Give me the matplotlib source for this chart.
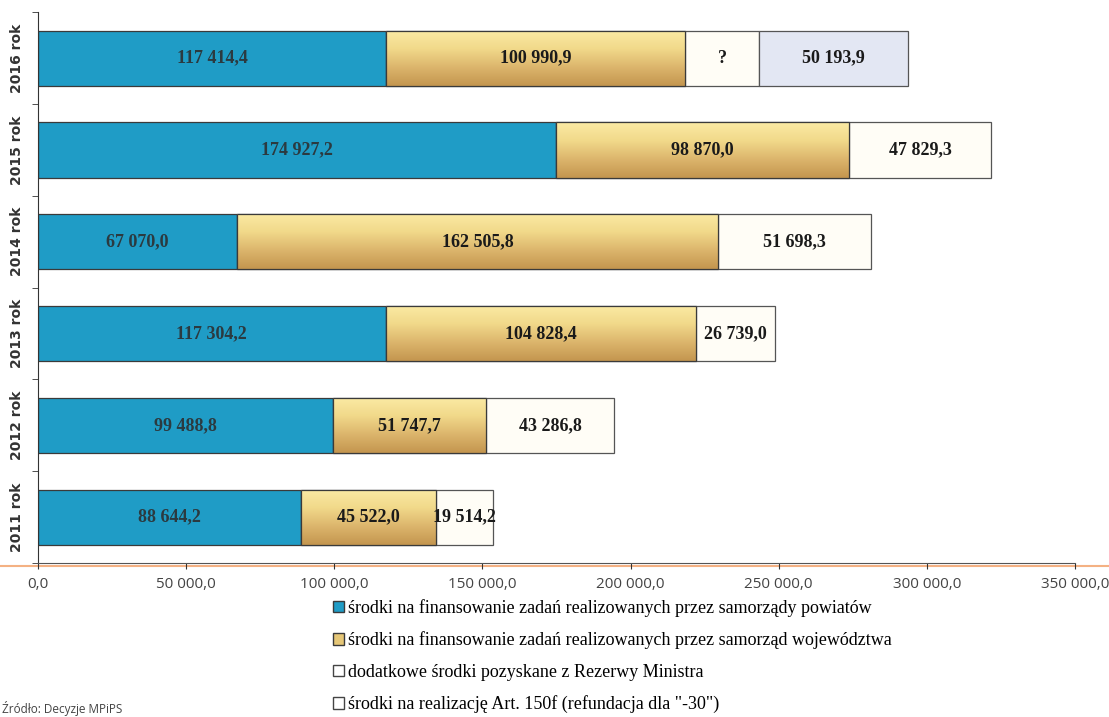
import numpy as np
import matplotlib.pyplot as plt
from matplotlib.patches import Patch
from matplotlib.colors import LinearSegmentedColormap

# data
years = ["2011 rok", "2012 rok", "2013 rok", "2014 rok", "2015 rok", "2016 rok"]
powiaty = [88644.2, 99488.8, 117304.2, 67070.0, 174927.2, 117414.4]
wojewodztwo = [45522.0, 51747.7, 104828.4, 162505.8, 98870.0, 100990.9]
rezerwa = [19514.2, 43286.8, 26739.0, 51698.3, 47829.3, 25000.0]   # 2016 unknown ("?")
rezerwa_txt = ["19 514,2", "43 286,8", "26 739,0", "51 698,3", "47 829,3", "?"]
art150f = [0, 0, 0, 0, 0, 50193.9]
xticks = [0, 50000, 100000, 150000, 200000, 250000, 300000, 350000]

labels = ["środki na finansowanie zadań realizowanych przez samorządy powiatów",
          "środki na finansowanie zadań realizowanych przez samorząd województwa",
          "dodatkowe środki pozyskane z Rezerwy Ministra",
          "środki na realizację Art. 150f (refundacja dla \"-30\")"]

def fmt(v):
    s = "{:,.1f}".format(v)
    return s.replace(",", " ").replace(".", ",")

c_blue = "#1f9cc6"
c_edge = "#3a3a3a"
c_lav = "#e3e7f3"
gold = LinearSegmentedColormap.from_list("gold", ["#fbeaa4", "#f1d98a", "#dcb56c", "#c4964f"])

fig = plt.figure(figsize=(11.09, 7.17), dpi=100)
ax = fig.add_axes([0.0343, 0.2148, 0.9350, 0.768])

y = np.arange(len(years))
h = 0.6
lw = 0.9
left1 = np.array(powiaty)
left2 = left1 + np.array(wojewodztwo)
left3 = left2 + np.array(rezerwa)

ax.barh(y, powiaty, height=h, color=c_blue, edgecolor=c_edge, linewidth=lw, zorder=2)
b2 = ax.barh(y, wojewodztwo, left=left1, height=h, color="#ecd07f", edgecolor=c_edge, linewidth=lw, zorder=2)
ax.barh(y, rezerwa, left=left2, height=h, color="#fffdf6", edgecolor="#555555", linewidth=lw, zorder=2)
ax.barh(y[5:], art150f[5:], left=left3[5:], height=h, color=c_lav, edgecolor="#555555", linewidth=lw, zorder=2)

# vertical gradient on the yellow segments (light on top, darker at the bottom)
grad = np.linspace(0, 1, 100).reshape(-1, 1)
for r in b2:
    x0, y0 = r.get_x(), r.get_y()
    im = ax.imshow(grad, cmap=gold, aspect="auto", zorder=2.5, origin="upper",
                   extent=[x0, x0 + r.get_width(), y0, y0 + r.get_height()])
    im.set_clip_path(r)
    ax.add_patch(plt.Rectangle((x0, y0), r.get_width(), r.get_height(),
                               fill=False, edgecolor=c_edge, linewidth=lw, zorder=3))

tf = dict(ha="center", va="center", family="Liberation Serif", fontweight="bold",
          fontsize=13, zorder=5)
for i in y:
    ax.text(powiaty[i] / 2, i, fmt(powiaty[i]), color="#2b3a40", **tf)
    ax.text(left1[i] + wojewodztwo[i] / 2, i, fmt(wojewodztwo[i]), color="#1a1a1a", **tf)
    ax.text(left2[i] + rezerwa[i] / 2, i, rezerwa_txt[i], color="#1a1a1a", **tf)
    if art150f[i] > 0:
        ax.text(left3[i] + art150f[i] / 2, i, fmt(art150f[i]), color="#1a1a1a", **tf)

ax.set_xlim(0, 350000)
ax.set_ylim(-0.5, 5.5)
ax.set_xticks(xticks)
ax.set_xticklabels([fmt(v) for v in xticks], family="Open Sans", fontsize=11, color="#444444")
ax.set_yticks(y)
ax.set_yticklabels(years, rotation=90, va="center", family="DejaVu Sans",
                   fontweight="bold", fontsize=10, color="#333333")
ax.set_yticks(np.arange(-0.5, 6, 1), minor=True)
ax.tick_params(axis="y", which="major", length=0, pad=10)
ax.tick_params(axis="y", which="minor", length=4, color="#333333")
ax.tick_params(axis="x", length=4, color="#333333", pad=6)
for s in ["top", "right"]:
    ax.spines[s].set_visible(False)
ax.spines["left"].set_color("#333333")
ax.spines["bottom"].set_color("#555555")

# orange scan line under the axis
fig.add_artist(plt.Line2D([0, 1], [1 - 566 / 717] * 2, color="#f4b183", linewidth=1.5, zorder=0))

handles = [Patch(facecolor=c_blue, edgecolor=c_edge),
           Patch(facecolor="#e6c777", edgecolor=c_edge),
           Patch(facecolor="white", edgecolor="#444444"),
           Patch(facecolor="white", edgecolor="#444444")]
fig.legend(handles, labels, loc="upper left", bbox_to_anchor=(0.286, 1 - 583 / 717),
           frameon=False, prop={"family": "Liberation Serif", "size": 13},
           handlelength=0.6, handleheight=0.6, handletextpad=0.2, labelspacing=0.8)

fig.text(0.002, 1 - 708 / 717, "Źródło: Decyzje MPiPS", family="Open Sans", fontsize=8.5,
         color="#444444", va="center")

fig.savefig("out.png", dpi=100)
